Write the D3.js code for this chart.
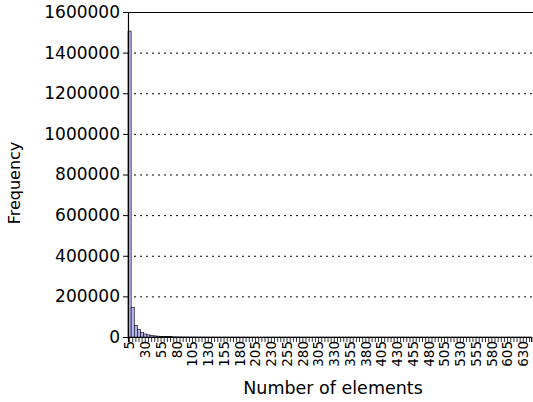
<!DOCTYPE html>
<html><head><meta charset="utf-8">
<script src="https://cdn.jsdelivr.net/npm/d3@7"></script>
<style>body{margin:0;background:#fff;}svg{display:block;font-family:"DejaVu Sans",sans-serif;}</style>
</head><body>
<script>
const categories = [];
for (let v = 5; v <= 640; v += 5) categories.push(v);
const frequencies = [1506000,145000,57600,36500,23000,15000,10500,7500,5500,4200,3200,2500,1900,1500,1200,
 950,800,650,550,450,380,320,270,230,200,170,150,130,110,95,85,75,65,58,50,45,40,36,32,28,
 25,22,20,18,16,14,13,12,11,10,9,8,8,7,7,6,6,5,5,5,4,4,4,3,3,3,3,2,2,2,
 2,2,2,1,1,1,1,1,1,1,1,1,1,1,1,1,1,1,1,1,1,1,1,1,1,1,1,1,1,1,
 1,1,1,1,1,1,1,1,1,1,1,1,1,1,1,1,1,1,1,1,1,1,1,1,1,1,1,1];
const yTicks = [0,200000,400000,600000,800000,1000000,1200000,1400000,1600000];
const xLabels = categories.filter((d,i)=> i%5===0);

const W=533,H=402;
const m={left:128,top:12,bottom:337};
const svg=d3.select("body").append("svg").attr("width",W).attr("height",H);
const x=d3.scaleBand().domain(categories).range([m.left,m.left+categories.length*3.15]).padding(0);
const y=d3.scaleLinear().domain([0,1600000]).range([m.bottom,m.top]);

// grid
svg.append("g").selectAll("line").data(yTicks.filter(t=>t>0&&t<1600000)).join("line")
 .attr("x1",m.left).attr("x2",W).attr("y1",d=>y(d)+0.5).attr("y2",d=>y(d)+0.5)
 .attr("stroke","#000").attr("stroke-width",1).attr("stroke-dasharray","2,4");

// bars
svg.append("g").selectAll("rect").data(categories).join("rect")
 .attr("x",d=>x(d)).attr("width",x.bandwidth())
 .attr("y",(d,i)=>y(frequencies[i])).attr("height",(d,i)=>m.bottom-y(frequencies[i]))
 .attr("fill","#b3b3f2").attr("stroke","#000").attr("stroke-width",0.6);

// top border
svg.append("line").attr("x1",m.left).attr("x2",W).attr("y1",m.top+0.5).attr("y2",m.top+0.5).attr("stroke","#000");

// y axis
const ya=svg.append("g").attr("transform",`translate(${m.left},0)`)
 .call(d3.axisLeft(y).tickValues(yTicks).tickFormat(d3.format("d")).tickSize(5).tickPadding(3));
ya.select(".domain").attr("stroke-width",1.2);
ya.selectAll("text").attr("font-size",17).attr("fill","#000").attr("font-family","DejaVu Sans");

// x axis
const xa=svg.append("g").attr("transform",`translate(0,${m.bottom})`)
 .call(d3.axisBottom(x).tickValues(categories).tickSize(5).tickFormat(d=> xLabels.includes(d)?d:""));
xa.select(".domain").attr("stroke-width",1.2);
xa.selectAll("line").attr("stroke-width",0.8);
xa.selectAll("text").attr("font-size",13.5).attr("font-family","DejaVu Sans").attr("fill","#000")
 .attr("transform","rotate(-90)").attr("text-anchor","end").attr("dy","0.35em").attr("x",-4).attr("y",0);

svg.append("text").attr("x",333).attr("y",394).attr("text-anchor","middle")
 .attr("font-size",17.5).text("Number of elements");
svg.append("text").attr("transform","translate(20,183) rotate(-90)").attr("text-anchor","middle")
 .attr("font-size",16).text("Frequency");
</script>
</body></html>
